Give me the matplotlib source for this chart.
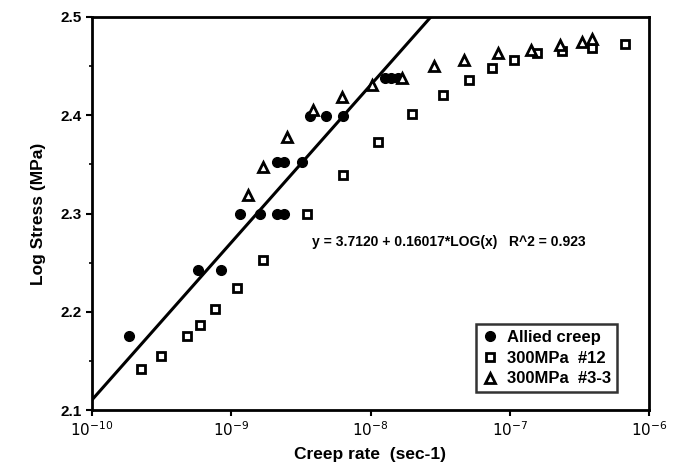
import numpy as np
import matplotlib
matplotlib.use("Agg")
import matplotlib.pyplot as plt
from matplotlib.ticker import FixedLocator, FixedFormatter

plt.rcParams['font.family'] = ['Liberation Sans', 'DejaVu Sans']

# Allied creep (filled circles): log10(creep rate), log stress
allied_logx = [-9.734, -9.242, -9.072, -8.935, -8.791, -8.671, -8.619,
               -8.671, -8.624, -8.492, -8.432, -8.317, -8.196,
               -7.896, -7.853, -7.802]
allied_y = [2.175, 2.242, 2.242, 2.300, 2.300, 2.300, 2.300,
            2.352, 2.352, 2.352, 2.399, 2.399, 2.399,
            2.438, 2.438, 2.438]

# 300MPa #12 (open squares)
s12_logx = [-9.648, -9.507, -9.320, -9.224, -9.117, -8.961, -8.770,
            -8.458, -8.195, -7.944, -7.704, -7.482, -7.293, -7.130,
            -6.969, -6.802, -6.627, -6.411, -6.172]
s12_y = [2.142, 2.155, 2.175, 2.187, 2.203, 2.224, 2.253,
         2.299, 2.339, 2.373, 2.401, 2.421, 2.436, 2.448,
         2.456, 2.463, 2.465, 2.468, 2.473]

# 300MPa #3-3 (open triangles)
s33_logx = [-8.877, -8.770, -8.597, -8.411, -8.207, -7.991, -7.776,
            -7.544, -7.326, -7.082, -6.850, -6.639, -6.483, -6.411]
s33_y = [2.319, 2.347, 2.378, 2.405, 2.419, 2.431, 2.438,
         2.450, 2.456, 2.463, 2.466, 2.472, 2.475, 2.478]

# Fit line y = a + b*log10(x)
fit_a = 3.7120
fit_b = 0.16017
fit_text = "y = 3.7120 + 0.16017*LOG(x)   R^2 = 0.923"

x_ticks = [1e-10, 1e-9, 1e-8, 1e-7, 1e-6]
x_tick_labels = [r'$10^{-10}$', r'$10^{-9}$', r'$10^{-8}$', r'$10^{-7}$', r'$10^{-6}$']
y_ticks = [2.1, 2.2, 2.3, 2.4, 2.5]
y_tick_labels = ['2.1', '2.2', '2.3', '2.4', '2.5']

fig = plt.figure(figsize=(6.78, 4.74), dpi=100)
ax = fig.add_axes([92/678, 64/474, 557/678, 393/474])

ax.set_xscale('log')
ax.set_xlim(1e-10, 1e-6)
ax.set_ylim(2.1, 2.5)

# fit line
lx = np.array([-10.0, (2.5 - fit_a) / fit_b])
ax.plot(10**lx, fit_a + fit_b * lx, color='black', lw=2.2, zorder=2)

ax.plot(10**np.array(allied_logx), allied_y, 'o', color='black', ms=7,
        mec='black', ls='none', label='Allied creep', zorder=3)
ax.plot(10**np.array(s12_logx), s12_y, 's', mfc='white', mec='black', mew=2.0,
        ms=6, ls='none', label='300MPa  #12', zorder=3)
ax.plot(10**np.array(s33_logx), s33_y, '^', mfc='white', mec='black', mew=2.0,
        ms=7, ls='none', label='300MPa  #3-3', zorder=3)

ax.text(10**-8.42, 2.271, fit_text, fontsize=10, fontweight='bold', va='center')

ax.xaxis.set_major_locator(FixedLocator(x_ticks))
ax.xaxis.set_major_formatter(FixedFormatter(x_tick_labels))
ax.xaxis.set_minor_locator(FixedLocator([]))
ax.yaxis.set_major_locator(FixedLocator(y_ticks))
ax.yaxis.set_major_formatter(FixedFormatter(y_tick_labels))
ax.yaxis.set_minor_locator(FixedLocator([2.15, 2.25, 2.35, 2.45]))

ax.tick_params(axis='both', which='major', direction='out', length=4, width=1.5,
               labelsize=11)
ax.tick_params(axis='y', which='minor', direction='out', length=2, width=1.2)
for lab in ax.get_xticklabels() + ax.get_yticklabels():
    lab.set_fontweight('bold')

for sp in ax.spines.values():
    sp.set_linewidth(2.0)

ax.set_xlabel('Creep rate  (sec-1)', fontsize=12.5, fontweight='bold', labelpad=6)
ax.set_ylabel('Log Stress (MPa)', fontsize=12.5, fontweight='bold', labelpad=10)

leg = ax.legend(loc='lower right', bbox_to_anchor=(0.942, 0.045), frameon=True,
                fancybox=False, edgecolor='black', fontsize=12,
                handletextpad=0.5, borderpad=0.35, labelspacing=0.35,
                handlelength=1.0, borderaxespad=0.0)
leg.get_frame().set_linewidth(1.8)
for t in leg.get_texts():
    t.set_fontweight('bold')

fig.savefig('out.png', dpi=100)
